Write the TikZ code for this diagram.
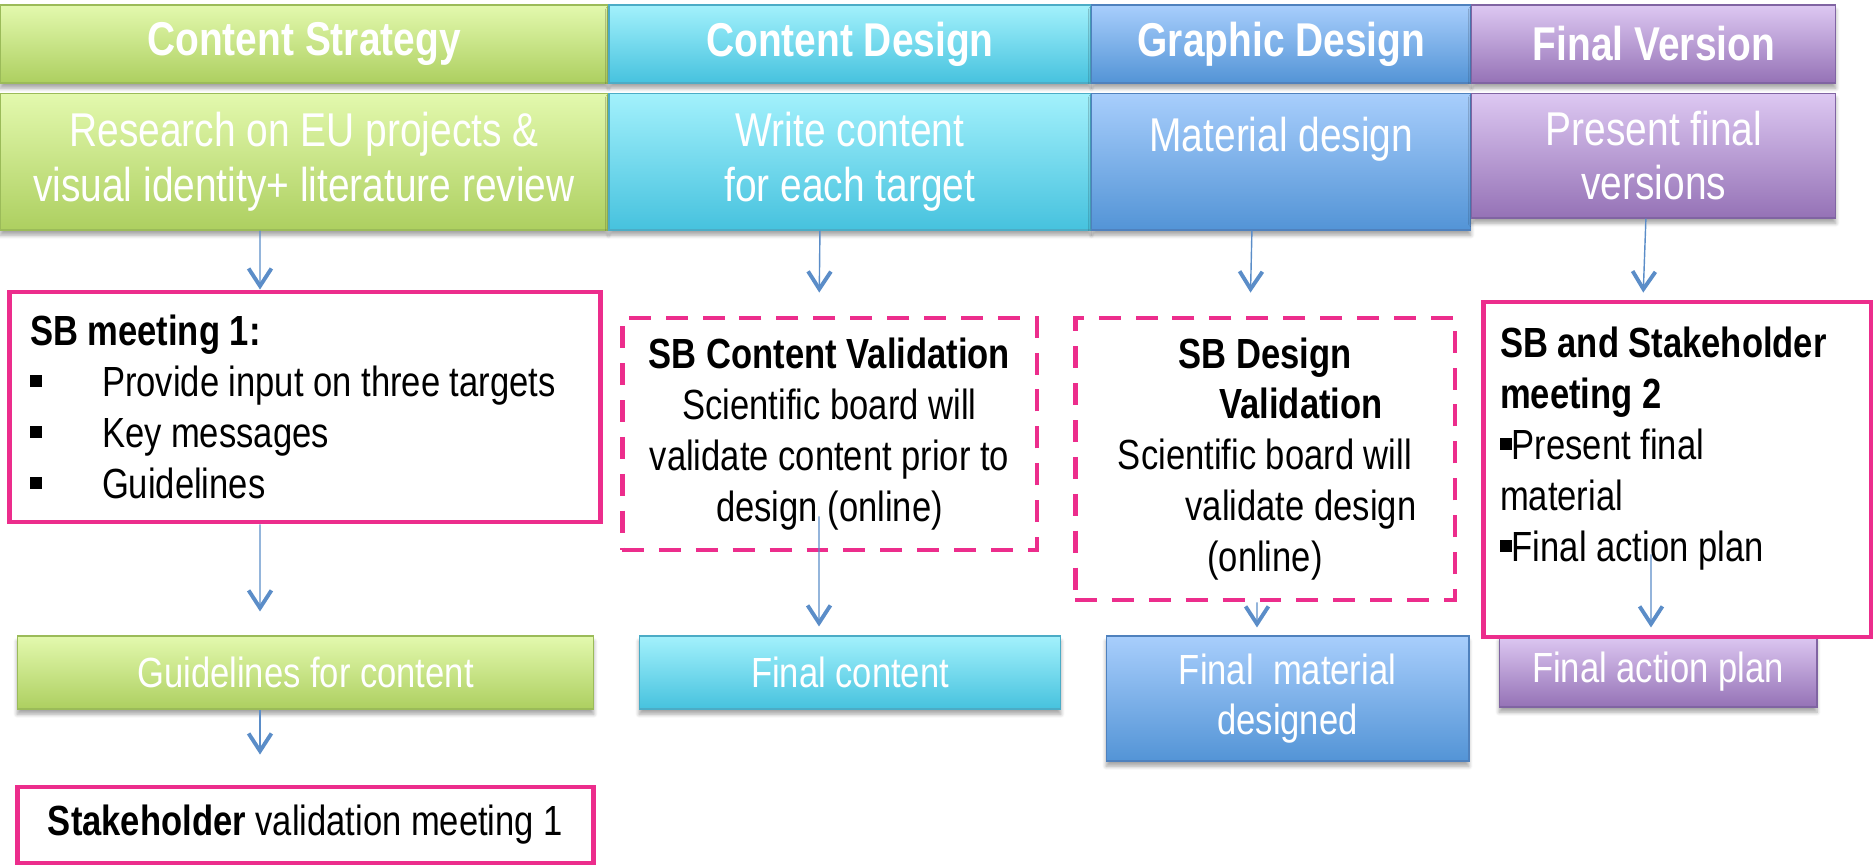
\documentclass[tikz,border=0pt]{standalone}
\usepackage{fontspec}
\setmainfont{Liberation Sans}[FakeStretch=0.82]
\usetikzlibrary{arrows.meta, positioning, shadows.blur}

% office-like theme colours
\definecolor{greenedge}{HTML}{9BBB59}
\definecolor{greentop}{HTML}{E3F9AE}
\definecolor{greenbot}{HTML}{ADCF60}
\definecolor{aquaedge}{HTML}{4BACC6}
\definecolor{aquatop}{HTML}{A3F1FC}
\definecolor{aquabot}{HTML}{46C2DE}
\definecolor{blueedge}{HTML}{4F81BD}
\definecolor{bluetop}{HTML}{A8CEFC}
\definecolor{bluebot}{HTML}{5394D6}
\definecolor{purpleedge}{HTML}{8064A2}
\definecolor{purpletop}{HTML}{DDC8F2}
\definecolor{purplebot}{HTML}{9572B6}
\definecolor{meetpink}{HTML}{EC2D8C}
\definecolor{flowblue}{HTML}{5B8DC8}

\newcommand{\sqb}{\rule[0.23em]{0.28em}{0.28em}}

\begin{document}
\begin{tikzpicture}[
    x=0.02cm, y=-0.02cm,
    box/.style={rectangle, draw=#1edge, line width=0.6pt, top color=#1top, bottom color=#1bot, text=white, align=center, inner sep=2pt,
        blur shadow={shadow xshift=0pt, shadow yshift=-3pt, shadow blur steps=6, shadow opacity=35}},
    head/.style={box=#1, minimum height=1.56cm, font=\fontsize{27}{32}\selectfont\bfseries},
    task/.style={box=#1, minimum height=2.74cm, font=\fontsize{27}{31}\selectfont},
    outcome/.style={box=#1, minimum height=1.46cm, font=\fontsize{24}{28.5}\selectfont},
    meet/.style={rectangle, draw=meetpink, line width=2.8pt, fill=white, font=\fontsize{24}{29}\selectfont},
    check/.style={meet, dash pattern=on 12.5pt off 8.5pt, align=center},
    flow/.style={draw=flowblue, line width=0.8pt, -{Straight Barb[length=10pt, width=13pt, line width=2.2pt]}}
]
    \useasboundingbox (0,0) rectangle (1874,865);

    % phase headers
    \node[head=green, minimum width=12.16cm] (hstrat) at (304,44) {Content Strategy};
    \node[head=aqua, minimum width=9.64cm, right=0pt of hstrat] (hcdes) {Content Design};
    \node[head=blue, minimum width=7.58cm, right=0pt of hcdes] (hgdes) {Graphic Design};
    \node[head=purple, minimum width=7.28cm, right=0pt of hgdes] (hfin) {Final Version};

    % tasks
    \node[task=green, minimum width=12.16cm, below=0.18cm of hstrat] (research) {Research on EU projects \&\\visual identity+ literature review};
    \node[task=aqua, minimum width=9.64cm, below=0.18cm of hcdes] (write) {Write content\\for each target};
    \node[task=blue, minimum width=7.58cm, below=0.18cm of hgdes] (material) {Material design\\\mbox{}};
    \node[task=purple, minimum width=7.28cm, minimum height=2.5cm, below=0.18cm of hfin] (present) {Present final\\versions};

    % outcomes
    \node[outcome=green, minimum width=11.54cm] (guide) at (305.5,672.5) {Guidelines for content};
    \node[outcome=aqua, minimum width=8.44cm] (fincont) at (850,672.5) {Final content};
    \node[outcome=blue, minimum width=7.26cm, minimum height=2.5cm] (finmat) at (1287.5,698.5) {Final\ \ material\\designed};
    \node[outcome=purple, minimum width=6.36cm, minimum height=1.42cm] (finplan) at (1658,671.5) {Final action plan};

    % meetings and validations
    \node[meet, align=flush left, text width=11cm, inner xsep=0.42cm, minimum height=4.6cm] (sbone) at (305,407)
        {\textbf{SB meeting 1:}\\
         \makebox[1.44cm][l]{\sqb}Provide input on three targets\\
         \makebox[1.44cm][l]{\sqb}Key messages\\
         \makebox[1.44cm][l]{\sqb}Guidelines};
    \node[check, minimum width=8.3cm, minimum height=4.64cm] (sbcv) at (829.5,434)
        {\textbf{SB Content Validation}\\Scientific board will\\validate content prior to\\design (online)};
    \node[check, minimum width=7.6cm, minimum height=5.64cm] (sbdv) at (1265,459)
        {\textbf{SB Design}\\\hspace*{1.44cm}\textbf{Validation}\\Scientific board will\\\hspace*{1.44cm}validate design\\(online)};
    \node[meet, align=flush left, text width=7.08cm, inner xsep=0.34cm, minimum height=6.7cm] (sbtwo) at (1677,469.5)
        {\textbf{SB and Stakeholder}\\\textbf{meeting 2}\\\sqb Present final\\material\\\sqb Final action plan\\\mbox{}};
    \node[meet, minimum width=11.54cm, minimum height=1.52cm] (stake) at (305.5,825)
        {\textbf{Stakeholder} validation meeting 1};

    % flow down each column
    \draw[flow] ([xshift=-0.88cm]research.south) -- ([xshift=-0.9cm]sbone.north);
    \draw[flow, shorten >=0.46cm] ([xshift=-0.6cm]write.south) -- ([xshift=-0.21cm]sbcv.north);
    \draw[flow, shorten >=0.46cm] ([xshift=-0.59cm]material.south) -- ([xshift=-0.3cm]sbdv.north);
    \draw[flow, shorten >=0.14cm] ([xshift=-0.16cm]present.south) -- ([xshift=-0.68cm]sbtwo.north);

    \draw[flow, shorten >=0.48cm] ([xshift=-0.9cm]sbone.south) -- ([xshift=-0.91cm]guide.north);
    \draw[flow, shorten >=0.18cm] ([xshift=-0.21cm, yshift=0.72cm]sbcv.south) -- ([xshift=-0.62cm]fincont.north);
    \draw[flow, shorten >=0.16cm] ([xshift=-0.16cm]sbdv.south) -- ([xshift=-0.61cm]finmat.north);
    \draw[flow, shorten >=0.16cm] ([xshift=-0.52cm, yshift=1.7cm]sbtwo.south) -- ([xshift=-0.14cm]finplan.north);
    \draw[flow, shorten >=0.6cm] ([xshift=-0.91cm]guide.south) -- ([xshift=-0.91cm]stake.north);
\end{tikzpicture}
\end{document}
